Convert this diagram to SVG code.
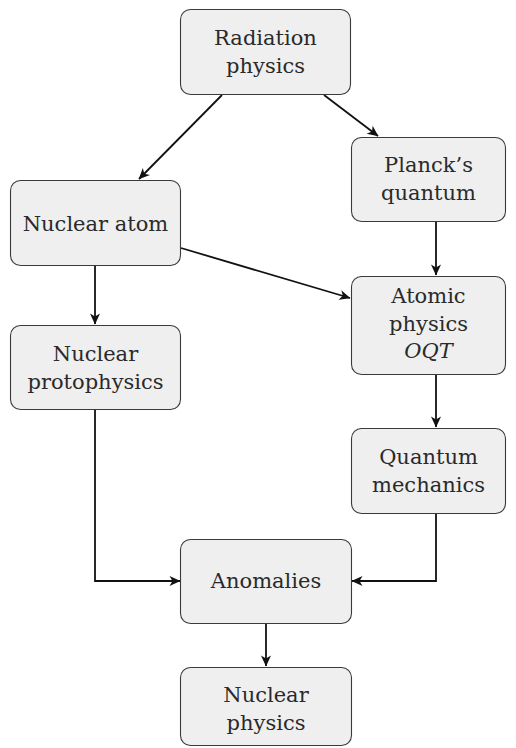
<svg xmlns="http://www.w3.org/2000/svg" width="516" height="748" viewBox="0 0 516 748">
<style>
.box{fill:#efefef;stroke:#3a3a3a;stroke-width:1.1}
.t{font-family:'DejaVu Serif','Liberation Serif',serif;font-size:21px;fill:#2a2a2a;text-anchor:middle}
.i{font-style:italic}
.c{fill:none;stroke:#111;stroke-width:1.8;marker-end:url(#ah)}
</style>
<defs>
<marker id="ah" markerUnits="userSpaceOnUse" viewBox="-12 -6 13 12" refX="0" refY="0" markerWidth="13" markerHeight="12" orient="auto">
<path d="M0.5,0 L-10.5,-5 L-7.5,0 L-10.5,5 Z" fill="#111"/>
</marker>
</defs>
<g id="connectors">
<line class="c" x1="222" y1="95" x2="139" y2="179"/>
<line class="c" x1="324" y1="95" x2="378" y2="136"/>
<line class="c" x1="181" y1="248" x2="350" y2="298"/>
<line class="c" x1="436" y1="222" x2="436" y2="275"/>
<line class="c" x1="95" y1="266" x2="95" y2="324"/>
<line class="c" x1="436" y1="375" x2="436" y2="427"/>
<polyline class="c" points="95,410 95,581 180,581"/>
<polyline class="c" points="436,514 436,581 352,581"/>
<line class="c" x1="266" y1="624" x2="266" y2="666"/>
</g>
<g id="radiation">
<rect class="box" x="180.5" y="9.5" width="170" height="85" rx="10"/>
<text class="t" x="265.5" y="45">Radiation</text>
<text class="t" x="265.5" y="73">physics</text>
</g>
<g id="nuclear-atom">
<rect class="box" x="10.5" y="180.5" width="170" height="85" rx="10"/>
<text class="t" x="95.5" y="231">Nuclear atom</text>
</g>
<g id="planck">
<rect class="box" x="351.5" y="137.5" width="154" height="84" rx="10"/>
<text class="t" x="428.5" y="172">Planck’s</text>
<text class="t" x="428.5" y="200">quantum</text>
</g>
<g id="atomic">
<rect class="box" x="351.5" y="276.5" width="154" height="98" rx="10"/>
<text class="t" x="428.5" y="303">Atomic</text>
<text class="t" x="428.5" y="331">physics</text>
<text class="t i" x="428.5" y="358">OQT</text>
</g>
<g id="protophysics">
<rect class="box" x="10.5" y="325.5" width="170" height="84" rx="10"/>
<text class="t" x="95.5" y="361">Nuclear</text>
<text class="t" x="95.5" y="389">protophysics</text>
</g>
<g id="quantum-mechanics">
<rect class="box" x="351.5" y="428.5" width="154" height="85" rx="10"/>
<text class="t" x="428.5" y="464">Quantum</text>
<text class="t" x="428.5" y="492">mechanics</text>
</g>
<g id="anomalies">
<rect class="box" x="180.5" y="539.5" width="171" height="84" rx="10"/>
<text class="t" x="266" y="588">Anomalies</text>
</g>
<g id="nuclear-physics">
<rect class="box" x="180.5" y="667.5" width="171" height="78" rx="10"/>
<text class="t" x="266" y="702">Nuclear</text>
<text class="t" x="266" y="730">physics</text>
</g>
</svg>
